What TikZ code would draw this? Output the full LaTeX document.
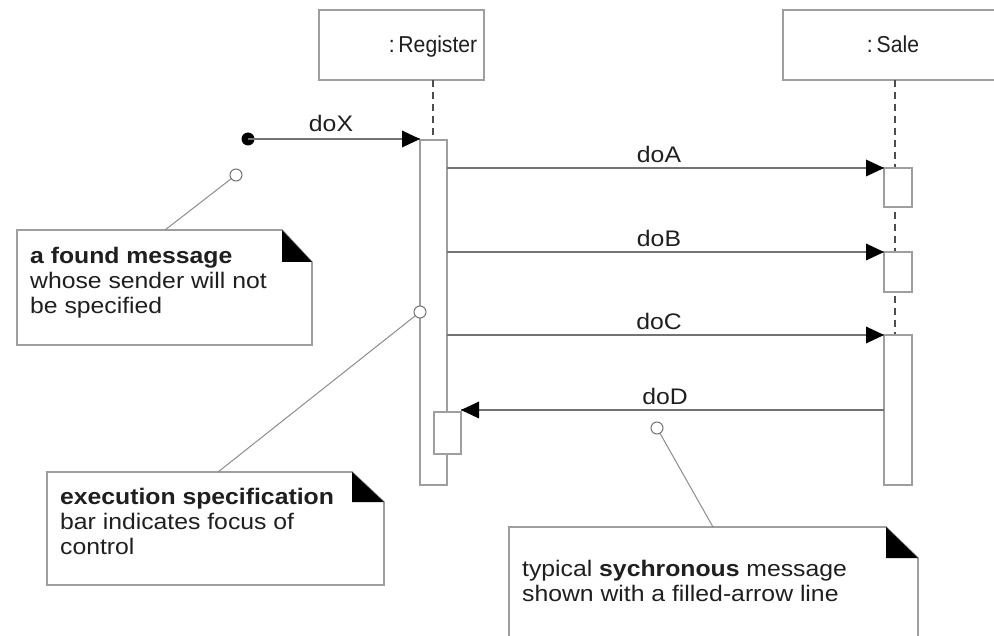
\documentclass[tikz,border=0pt]{standalone}
\usepackage{fontspec}
\setmainfont{Liberation Sans}[FakeStretch=1.1]
\newfontfamily\headfont{Liberation Sans}[FakeStretch=0.92]
\begin{document}
\begin{tikzpicture}[x=1pt,y=-1pt,
  box/.style={draw=black!38,line width=1.6pt,fill=white},
  lifeln/.style={draw=black!70,line width=1.6pt,dash pattern=on 7pt off 5pt},
  msg/.style={draw=black!55,line width=1.6pt},
  tip/.style={fill=black},
  lbl/.style={anchor=base,font=\fontsize{22.5}{26}\selectfont,text=black!88,inner sep=0pt},
  headlbl/.style={anchor=base,font=\headfont\fontsize{23}{26}\selectfont,text=black!88,inner sep=0pt},
  notetxt/.style={anchor=base west,font=\fontsize{22.5}{26}\selectfont,text=black!88,inner sep=0pt,align=left},
  conn/.style={draw=black!45,line width=1pt},
  pin/.style={draw=black!55,fill=white,line width=1pt}]
\useasboundingbox (0,0) rectangle (994,636);
\begin{scope}
\clip (0,0) rectangle (994,636);
% heads
\draw[box] (319,10) rectangle (484,80);
\node[headlbl] (reg) at (433,53) {:\,Register};
\draw[box] (783,10) rectangle (1007,80);
\node[headlbl] (sale) at (893,53) {:\,Sale};
% lifelines
\coordinate (rl0) at (433,80); \coordinate (rl1) at (433,140);
\draw[lifeln] (rl0) -- (rl1);
\coordinate (sl0) at (895,80); \coordinate (sl1) at (895,335);
\draw[lifeln] (sl0) -- (sl1);
% activation bars
\draw[box] (420,140) rectangle (447,485);
\draw[box] (434,412) rectangle (461,454);
\draw[box] (884,168) rectangle (912,207);
\draw[box] (884,252) rectangle (912,292);
\draw[box] (884,335) rectangle (912,485);
% messages
\coordinate (x0) at (248,139); \coordinate (x1) at (420,139);
\fill (x0) circle [radius=6.5pt];
\draw[msg] (x0) -- (x1);
\fill[tip] (x1) -- ++(-18,-8.5) -- ++(0,17) -- cycle;
\node[lbl] (doX) at (331,132) {doX};
\foreach \y/\n in {168/doA,252/doB,335/doC}{
  \coordinate (a\n) at (447,\y); \coordinate (b\n) at (884,\y);
  \draw[msg] (a\n) -- (b\n);
  \fill[tip] (b\n) -- ++(-18,-8.5) -- ++(0,17) -- cycle;
  \node[lbl] (l\n) at (659,\y-5) {\n};
}
\coordinate (d0) at (884,410); \coordinate (d1) at (461,410);
\draw[msg] (d0) -- (d1);
\fill[tip] (d1) -- ++(18,-8.5) -- ++(0,17) -- cycle;
\node[lbl] (doD) at (665,405) {doD};
% notes
\draw[box] (17,230) -- (282,230) -- (312,262) -- (312,345) -- (17,345) -- cycle;
\fill (282,230) -- (282,262) -- (312,262) -- cycle;
\node[notetxt] (n1) at (30,264) {\textbf{a found message}};
\node[notetxt] at (30,289) {whose sender will not};
\node[notetxt] at (30,314) {be specified};
\draw[box] (47,472) -- (352,472) -- (384,502) -- (384,585) -- (47,585) -- cycle;
\fill (352,472) -- (352,502) -- (384,502) -- cycle;
\node[notetxt] (n2) at (60,504) {\textbf{execution specification}};
\node[notetxt] at (60,529) {bar indicates focus of};
\node[notetxt] at (60,554) {control};
\draw[box] (509,640) -- (509,527) -- (886,527) -- (918,558) -- (918,640);
\fill (886,527) -- (886,558) -- (918,558) -- cycle;
\node[notetxt] (n3) at (522,576) {typical \textbf{sychronous} message};
\node[notetxt] at (522,601) {shown with a filled-arrow line};
% note connectors
\coordinate (p1) at (236,175); \coordinate (q1) at (165,230);
\draw[conn] (p1) -- (q1); \draw[pin] (p1) circle [radius=6pt];
\coordinate (p2) at (420,312); \coordinate (q2) at (218,472);
\draw[conn] (p2) -- (q2); \draw[pin] (p2) circle [radius=6pt];
\coordinate (p3) at (657,428); \coordinate (q3) at (713,527);
\draw[conn] (p3) -- (q3); \draw[pin] (p3) circle [radius=6pt];
\end{scope}
\end{tikzpicture}
\end{document}
